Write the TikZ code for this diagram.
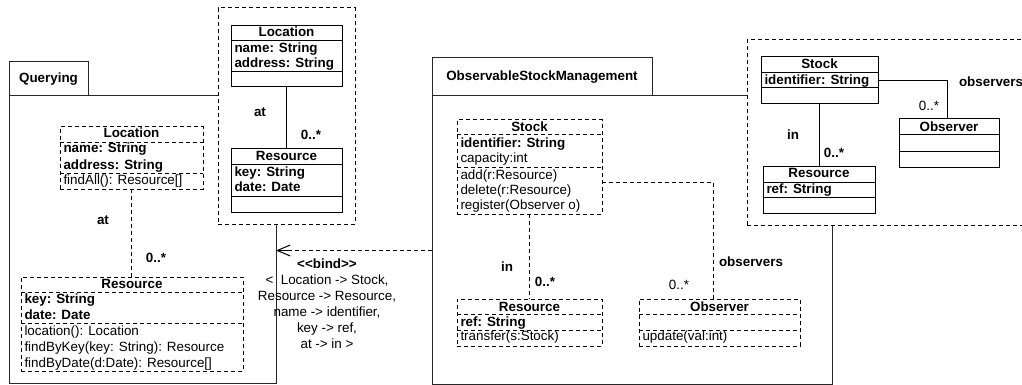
\documentclass[tikz,border=0pt]{standalone}
\usepackage{fontspec}
\setmainfont{Liberation Sans}
\usetikzlibrary{arrows.meta,calc}

% One UML class: outline node plus compartment dividers
% #1 name, #2 line style, #3 x1, #4 y1, #5 x2, #6 y2, #7 divider y values
\newcommand\umlclassbox[7]{%
  \node[#2, fill=white, anchor=north west,
        minimum width={(#5-#3)*1pt}, minimum height={(#6-#4)*1pt}] (#1) at (#3,#4) {};
  \foreach \dy in {#7} {\draw[#2] (#3,\dy) -- (#5,\dy);}
}

\begin{document}
\begin{tikzpicture}[x=1pt,y=-1pt,
  every node/.style={inner sep=0pt, outer sep=0pt},
  txt/.style={font=\fontsize{13.4}{15.8}\selectfont, text height=9.5pt, text depth=2.8pt},
  btxt/.style={txt, font=\fontsize{13.4}{15.8}\selectfont\bfseries},
  solidline/.style={draw=black, line width=1pt},
  dashline/.style={solidline, dash pattern=on 4pt off 3pt},
  pkg/.style={draw=black!85, line width=1pt},
  tmpl/.style={dashline, fill=white},
  mem/.style={txt, anchor=west},
  bmem/.style={btxt, anchor=west}]

\useasboundingbox (0,0) rectangle (1022,385);
\clip (0,0) rectangle (1022,385);

% ---------- package Querying ----------
\node[pkg, anchor=north west, minimum width=267pt, minimum height=287pt] (qbody) at (9,96) {};
\node[pkg, btxt, anchor=north west, minimum width=79pt, minimum height=34pt] (qtab) at (9,62) {Querying};

% template parameters of Querying
\node[tmpl, anchor=north west, minimum width=137pt, minimum height=216pt] (qtpl) at (218,8) {};
\umlclassbox{tloc}{solidline}{231}{26}{342}{87}{41,72}
\node[btxt] at (286.5,33) {Location};
\node[bmem] at (234.5,49) {name: String};
\node[bmem] at (234.5,64.5) {address: String};
\umlclassbox{tres}{solidline}{231}{148}{342}{212}{164,196}
\node[btxt] at (286.5,157) {Resource};
\node[bmem] at (234.5,173) {key: String};
\node[bmem] at (234.5,188.5) {date: Date};
\draw[solidline] (tloc.south) -- (tloc.south |- tres.north);
\node[btxt] at (260,113) {at};
\node[btxt] at (311,136) {0..*};

% classes of Querying
\umlclassbox{qloc}{dashline}{60}{127}{203}{189}{142,173}
\node[btxt] at (131.5,134.5) {Location};
\node[bmem] at (63.5,149.5) {name: String};
\node[bmem] at (63.5,166) {address: String};
\node[mem] at (63.5,181) {findAll(): Resource[]};
\umlclassbox{qres}{dashline}{21}{277}{243}{371}{292,323}
\node[btxt] at (132,285) {Resource};
\node[bmem] at (24.5,300.5) {key: String};
\node[bmem] at (24.5,316.5) {date: Date};
\node[mem] at (24.5,332.5) {location(): Location};
\node[mem] at (24.5,348) {findByKey(key: String): Resource};
\node[mem] at (24.5,364) {findByDate(d:Date): Resource[]};
\draw[dashline] (qloc.south) -- (qloc.south |- qres.north);
\node[btxt] at (103,221) {at};
\node[btxt] at (156,259) {0..*};

% ---------- package ObservableStockManagement ----------
\node[pkg, anchor=north west, minimum width=400pt, minimum height=288pt] (obody) at (432,96) {};
\node[pkg, btxt, anchor=north west, minimum width=220pt, minimum height=38pt] (otab) at (432,58) {ObservableStockManagement};

% template parameters of ObservableStockManagement
\node[tmpl, anchor=north west, minimum width=300pt, minimum height=185pt] (otpl) at (747,40) {};
\umlclassbox{rstock}{solidline}{761}{57}{878}{104}{73,88}
\node[btxt] at (819.5,65) {Stock};
\node[bmem] at (764.5,81) {identifier: String};
\umlclassbox{rres}{solidline}{763}{166}{875}{213}{182,197}
\node[btxt] at (819,174.5) {Resource};
\node[bmem] at (766.5,190) {ref: String};
\umlclassbox{robs}{solidline}{899}{119}{999}{167}{135,151}
\node[btxt] at (949,128) {Observer};
\draw[solidline] (rstock.south) -- (rstock.south |- rres.north);
\draw[solidline] (rstock.east) -| ([xshift=-2pt]robs.north);
\node[btxt] at (793,136) {in};
\node[btxt] at (834,154) {0..*};
\node[bmem] at (959,83) {observers};
\node[txt] at (929,107) {0..*};

% classes of ObservableStockManagement
\umlclassbox{sstock}{dashline}{457}{120}{602}{214}{135,167}
\node[btxt] at (529.5,128) {Stock};
\node[bmem] at (460.5,144.5) {identifier: String};
\node[mem] at (460.5,159.5) {capacity:int};
\node[mem] at (460.5,176) {add(r:Resource)};
\node[mem] at (460.5,191) {delete(r:Resource)};
\node[mem] at (460.5,206) {register(Observer o)};
\umlclassbox{sres}{dashline}{457}{299}{602}{346}{314,330}
\node[btxt] at (529.5,308) {Resource};
\node[bmem] at (460.5,323) {ref: String};
\node[mem] at (460.5,337.5) {transfer(s:Stock)};
\umlclassbox{sobs}{dashline}{639}{299}{800}{346}{314,330}
\node[btxt] at (719.5,308) {Observer};
\node[mem] at (642.5,337.5) {update(val:int)};
\draw[dashline] (sstock.south) -- (sstock.south |- sres.north);
\draw[dashline] ([yshift=-15pt]sstock.east) -| ([xshift=-6.5pt]sobs.north);
\node[btxt] at (507,268) {in};
\node[btxt] at (545,283) {0..*};
\node[bmem] at (719,263) {observers};
\node[txt] at (679,286) {0..*};

% ---------- binding between the packages ----------
\coordinate (bindy) at (0,250.5);
\draw[dashline] (obody.west |- bindy) -- ([xshift=12pt]qbody.east |- bindy);
\draw[solidline, -{Straight Barb[length=13pt,width=11pt]}]
  ([xshift=12pt]qbody.east |- bindy) -- (qbody.east |- bindy);
\node[font=\fontsize{13.4}{16}\selectfont, align=center] (bindlbl) at (327,304)
  {\textbf{<\kern0pt<bind>\kern0pt>}\\<~~Location -> Stock,\\Resource -> Resource,\\name -> identifier,\\key -> ref,\\at -> in >};

\end{tikzpicture}
\end{document}
